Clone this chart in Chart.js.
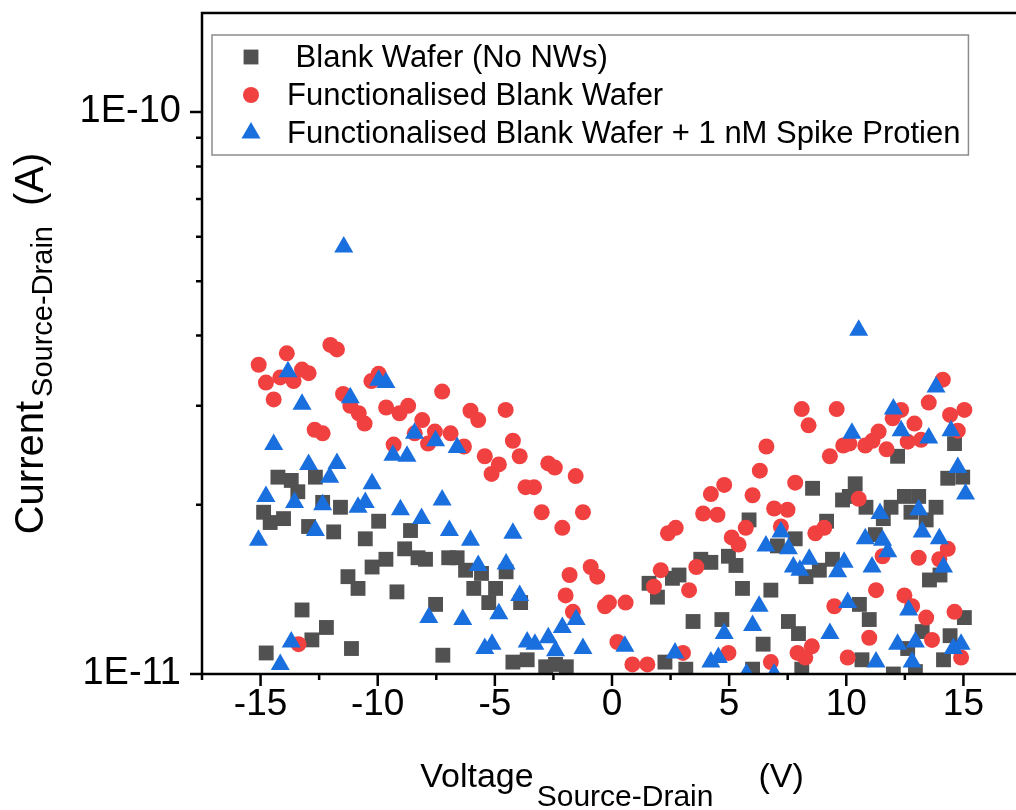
<!DOCTYPE html>
<html>
<head>
<meta charset="utf-8">
<script src="https://cdn.jsdelivr.net/npm/chart.js@4.4.0/dist/chart.umd.min.js"></script>
<style>
  html, body { margin: 0; padding: 0; background: #fff; overflow: hidden; }
  canvas { display: block; }
</style>
</head>
<body>
<canvas id="ivChart" width="1040" height="810"></canvas>
<script>
// series names (the first one has a leading space in the original figure)
const seriesNames = [' Blank Wafer (No NWs)', 'Functionalised Blank Wafer', 'Functionalised Blank Wafer + 1 nM Spike Protien'];

// currents below are read in units of 1E-11 A
const CURRENT_UNIT = 1e-11;

const blankV = [-14.87,-14.76,-14.59,-14.26,-14.02,-13.69,-13.41,-13.23,-12.95,-12.81,-12.66,-12.35,-12.19,-11.88,-11.59,-11.27,-11.12,-10.84,-10.53,-10.24,
  -9.96,-9.65,-9.18,-8.85,-8.60,-8.28,-7.96,-7.53,-7.22,-6.97,-6.61,-6.25,-5.90,-5.57,-5.26,-4.97,-4.52,-4.23,-3.90,-3.62,-2.83,-2.41,-1.95,
  1.58,1.94,2.26,2.58,2.86,3.15,3.46,3.79,4.22,4.69,4.97,5.29,5.57,5.85,6.00,6.45,6.78,7.06,7.53,7.82,7.96,8.10,8.28,8.56,8.85,9.16,9.41,
  9.84,10.13,10.38,10.56,10.67,10.84,10.98,11.24,11.58,11.91,12.01,12.19,12.48,12.62,12.76,12.95,13.09,13.24,13.41,13.55,13.83,14.00,14.15,14.33,14.43,14.62,14.97,15.04];
const blankI = [1.94,1.09,1.86,2.24,1.89,2.21,2.11,1.30,1.83,1.15,2.24,2.02,1.21,1.79,1.98,1.49,1.11,1.42,1.74,1.55,
  1.87,1.60,1.40,1.67,1.80,1.61,1.60,1.33,1.08,1.61,1.61,1.53,1.42,1.51,1.34,1.42,1.52,1.05,1.34,1.06,1.03,1.04,1.03,
  1.45,1.37,1.05,1.48,1.50,1.02,1.24,1.60,1.58,1.25,1.62,1.56,1.42,1.88,1.02,1.13,1.41,1.69,1.24,1.74,1.18,1.02,1.49,2.14,1.53,1.87,1.60,
  2.04,2.07,2.18,1.33,1.06,1.98,1.25,1.77,1.89,1.98,1.00,2.44,2.07,1.11,1.94,1.01,2.07,1.19,1.88,1.47,1.98,1.50,1.06,2.23,1.17,2.57,2.24,1.26];

const funcV = [-15.08,-14.77,-14.44,-14.16,-13.88,-13.59,-13.38,-13.23,-12.95,-12.69,-12.35,-12.02,-11.74,-11.48,-11.17,-10.81,-10.56,-10.27,-9.96,-9.64,
  -9.32,-9.07,-8.70,-8.42,-8.10,-7.85,-7.56,-7.25,-6.89,-6.32,-6.04,-5.71,-5.43,-5.14,-4.83,-4.54,-4.23,-3.94,-3.69,-3.33,
  -3.00,-2.72,-2.44,-2.12,-1.98,-1.81,-1.67,-1.55,-1.24,-0.91,-0.63,-0.30,-0.13,0.23,0.58,0.87,1.51,1.79,2.08,2.39,
  2.72,3.03,3.29,3.60,3.89,4.22,4.50,4.79,4.97,5.11,5.40,5.71,6.00,6.31,6.59,6.78,6.92,7.21,7.49,7.82,
  7.92,8.10,8.25,8.39,8.53,8.68,9.06,9.30,9.49,9.59,9.87,10.06,10.13,10.53,10.81,10.98,11.12,11.27,11.38,11.55,
  11.72,11.98,12.34,12.48,12.62,12.81,12.91,13.09,13.19,13.41,13.52,13.66,13.97,14.12,14.33,14.43,14.62,14.76,14.90,15.04];
const funcI = [3.55,3.30,3.08,3.37,3.72,3.32,1.13,3.48,3.43,2.72,2.68,3.85,3.78,3.15,3.00,2.91,2.79,3.32,3.42,2.98,
  2.56,2.91,3.00,2.68,2.83,2.57,2.70,3.18,2.68,2.54,2.94,2.83,2.44,2.27,2.36,2.95,2.60,2.44,2.15,2.15,
  1.94,2.37,2.33,1.82,1.38,1.50,1.29,2.25,1.94,1.55,1.49,1.32,1.34,1.14,1.34,1.04,1.04,1.43,1.53,1.78,
  1.82,1.09,1.41,1.55,1.93,2.09,1.92,2.17,1.09,1.75,1.70,1.82,2.08,2.30,2.54,1.05,1.97,1.83,1.96,2.19,
  1.09,2.96,1.07,2.77,1.12,1.78,1.82,2.44,1.32,2.96,2.55,1.07,2.57,2.05,2.55,1.16,2.60,1.41,2.70,1.62,
  2.51,2.85,2.95,1.38,2.59,1.32,2.79,1.61,2.61,1.26,3.04,1.15,1.60,3.34,1.67,2.89,1.29,2.71,1.07,2.95];

const spikeV = [-15.09,-14.77,-14.44,-14.16,-13.83,-13.69,-13.55,-13.23,-12.95,-12.66,-12.35,-12.05,-11.74,-11.45,-11.17,-10.84,-10.53,-10.24,-9.96,-9.65,
  -9.35,-9.03,-8.75,-8.43,-8.13,-7.82,-7.53,-7.25,-6.94,-6.61,-6.37,-6.04,-5.71,-5.43,-5.12,-4.83,-4.52,-4.23,-3.94,-3.62,
  -3.29,-2.72,-2.41,-2.12,-1.53,-1.24,0.55,2.69,4.22,4.54,4.79,5.74,6.00,6.28,6.57,6.92,7.21,7.53,7.74,8.02,
  8.42,9.30,9.63,9.91,10.06,10.24,10.53,10.81,11.10,11.27,11.44,11.55,11.77,12.01,12.19,12.34,12.66,12.81,12.95,13.09,
  13.24,13.52,13.83,13.97,14.15,14.47,14.57,14.76,14.90,15.09];
const spikeI = [1.73,2.07,2.56,1.04,3.45,1.14,2.02,3.02,2.36,1.80,2.00,2.24,2.37,5.75,3.10,1.98,2.02,2.18,3.33,3.30,
  2.45,1.96,2.44,2.68,1.89,1.26,2.60,2.04,1.80,2.53,1.25,1.73,1.56,1.11,1.13,1.28,1.57,1.78,1.38,1.14,
  1.13,1.16,1.10,1.21,1.25,1.11,1.12,1.09,1.05,1.07,1.18,1.00,1.22,1.32,1.69,1.00,1.79,1.67,1.55,1.53,
  1.60,1.18,1.52,1.58,1.34,2.68,4.09,1.74,1.55,1.05,1.93,1.73,1.65,2.96,1.13,2.71,1.30,1.05,1.14,1.96,
  1.79,2.63,3.24,1.74,1.55,2.71,1.11,2.33,1.13,2.09];

// axis ticks
const xTickValues = [-17.5,-15,-12.5,-10,-7.5,-5,-2.5,0,2.5,5,7.5,10,12.5,15,17.5];
const yTickValues = [1e-11,2e-11,3e-11,4e-11,5e-11,6e-11,7e-11,8e-11,9e-11,1e-10];

const FONT = '"Liberation Sans", Arial, sans-serif';
Chart.defaults.font.family = FONT;
Chart.defaults.color = '#000';

function toPoints(xs, ys) {
  return xs.map((v, i) => ({ x: v, y: ys[i] * CURRENT_UNIT }));
}

const isMajorDecade = v => Math.abs(Math.log10(v) - Math.round(Math.log10(v))) < 1e-9;

// draw a marker the same way the chart does
function drawMarker(ctx, ds, x, y) {
  ctx.fillStyle = ds.backgroundColor;
  ctx.strokeStyle = ds.borderColor;
  ctx.lineWidth = ds.borderWidth;
  if (Chart.helpers && Chart.helpers.drawPoint) {
    Chart.helpers.drawPoint(ctx, { pointStyle: ds.pointStyle, radius: ds.pointRadius, borderWidth: ds.borderWidth, rotation: 0 }, x, y);
    return;
  }
  const r = ds.pointRadius;
  ctx.beginPath();
  if (ds.pointStyle === 'rect') {
    const s = Math.SQRT1_2 * r;
    ctx.rect(x - s, y - s, 2 * s, 2 * s);
  } else if (ds.pointStyle === 'triangle') {
    ctx.moveTo(x, y - r);
    ctx.lineTo(x + r * Math.sin(2 * Math.PI / 3), y + r * 0.5);
    ctx.lineTo(x - r * Math.sin(2 * Math.PI / 3), y + r * 0.5);
    ctx.closePath();
  } else {
    ctx.arc(x, y, r, 0, Math.PI * 2);
  }
  ctx.fill();
}

// frame and the outward ticks (major long, minor short)
const axesFrame = {
  id: 'axesFrame',
  afterDatasetsDraw(chart) {
    const { ctx, chartArea: a, scales: { x, y } } = chart;
    ctx.save();
    ctx.strokeStyle = '#000';
    ctx.lineWidth = 2.5;
    ctx.strokeRect(a.left, a.top, a.right - a.left, a.bottom - a.top);
    ctx.beginPath();
    x.ticks.forEach(t => {
      const px = x.getPixelForValue(t.value);
      const len = Math.abs(t.value % 5) < 1e-9 ? 12 : 6;
      ctx.moveTo(px, a.bottom);
      ctx.lineTo(px, a.bottom + len);
    });
    y.ticks.forEach(t => {
      const py = y.getPixelForValue(t.value);
      const len = isMajorDecade(t.value) ? 12 : 6;
      ctx.moveTo(a.left, py);
      ctx.lineTo(a.left - len, py);
    });
    ctx.stroke();
    ctx.restore();
  }
};

// axis titles with subscripts, and the boxed legend inside the plot
const titlesAndLegend = {
  id: 'titlesAndLegend',
  afterDraw(chart) {
    const { ctx, chartArea: a } = chart;
    ctx.save();
    ctx.fillStyle = '#000';
    ctx.textBaseline = 'alphabetic';
    ctx.textAlign = 'left';

    // x title
    const xParts = [
      { t: 'Voltage', size: 34, dy: 0, gap: 3 },
      { t: 'Source-Drain', size: 30, dy: 19, gap: 45 },
      { t: '(V)', size: 34, dy: 0, gap: 0 }
    ];
    let total = 0;
    xParts.forEach(p => { ctx.font = p.size + 'px ' + FONT; p.w = ctx.measureText(p.t).width; total += p.w + p.gap; });
    let cx = (a.left + a.right) / 2 - total / 2;
    xParts.forEach(p => { ctx.font = p.size + 'px ' + FONT; ctx.fillText(p.t, cx, 787 + p.dy); cx += p.w + p.gap; });

    // y title, rotated
    const yParts = [
      { t: 'Current', size: 40, dy: 0, gap: 4 },
      { t: 'Source-Drain', size: 29, dy: 9, gap: 20 },
      { t: '(A)', size: 40, dy: 0, gap: 0 }
    ];
    total = 0;
    yParts.forEach(p => { ctx.font = p.size + 'px ' + FONT; p.w = ctx.measureText(p.t).width; total += p.w + p.gap; });
    ctx.translate(43, (a.top + a.bottom) / 2);
    ctx.rotate(-Math.PI / 2);
    cx = -total / 2;
    yParts.forEach(p => { ctx.font = p.size + 'px ' + FONT; ctx.fillText(p.t, cx, p.dy); cx += p.w + p.gap; });
    ctx.setTransform(1, 0, 0, 1, 0, 0);

    // legend
    const left = a.left + 10, top = a.top + 22, rowH = 38;
    const markX = left + 39, textX = left + 75;
    ctx.font = '31px ' + FONT;
    const maxW = Math.max(...chart.data.datasets.map(d => ctx.measureText(d.label).width));
    const w = textX - left + maxW + 8;
    const h = rowH * chart.data.datasets.length + 6;
    ctx.fillStyle = '#fff';
    ctx.fillRect(left, top, w, h);
    ctx.strokeStyle = '#8c8c8c';
    ctx.lineWidth = 1.5;
    ctx.strokeRect(left, top, w, h);
    chart.data.datasets.forEach((ds, i) => {
      const cy = top + 22 + i * rowH;
      drawMarker(ctx, ds, markX, cy);
      ctx.fillStyle = '#000';
      ctx.font = '31px ' + FONT;
      ctx.textBaseline = 'middle';
      ctx.fillText(ds.label, textX, cy + 1);
    });
    ctx.restore();
  }
};

const ctx = document.getElementById('ivChart').getContext('2d');
const chart = new Chart(ctx, {
  type: 'scatter',
  data: {
    datasets: [
      { label: seriesNames[0], data: toPoints(blankV, blankI), pointStyle: 'rect', pointRadius: 10.5,
        backgroundColor: '#515151', borderColor: '#515151', borderWidth: 0, order: 3, clip: 0 },
      { label: seriesNames[1], data: toPoints(funcV, funcI), pointStyle: 'circle', pointRadius: 8,
        backgroundColor: '#F14040', borderColor: '#F14040', borderWidth: 0, order: 2, clip: 0 },
      { label: seriesNames[2], data: toPoints(spikeV, spikeI), pointStyle: 'triangle', pointRadius: 11,
        backgroundColor: '#1A6FDF', borderColor: '#1A6FDF', borderWidth: 0, order: 1, clip: 0 }
    ]
  },
  options: {
    responsive: false,
    animation: false,
    events: [],
    layout: { padding: { left: 0, top: 13, right: 18, bottom: 0 } },
    plugins: { legend: { display: false }, tooltip: { enabled: false } },
    scales: {
      x: {
        type: 'linear',
        min: -17.5,
        max: 17.5,
        afterBuildTicks: s => { s.ticks = xTickValues.map(v => ({ value: v })); },
        afterFit: s => { s.height = 136; s.paddingLeft = 0; s.paddingRight = 0; },
        grid: { display: false, drawTicks: false },
        border: { display: false },
        ticks: {
          autoSkip: false,
          maxRotation: 0,
          padding: 9,
          color: '#000',
          font: { size: 37 },
          callback: v => (Math.abs(v % 5) < 1e-9 ? String(v) : '')
        }
      },
      y: {
        type: 'logarithmic',
        min: 1e-11,
        max: 1.5e-10,
        afterBuildTicks: s => { s.ticks = yTickValues.map(v => ({ value: v })); },
        afterFit: s => { s.width = 202; s.paddingTop = 0; s.paddingBottom = 0; },
        grid: { display: false, drawTicks: false },
        border: { display: false },
        ticks: {
          autoSkip: false,
          padding: 21,
          color: '#000',
          font: { size: 38 },
          callback: v => (isMajorDecade(v) ? v.toExponential(0).toUpperCase() : '')
        }
      }
    }
  },
  plugins: [axesFrame, titlesAndLegend]
});
</script>
</body>
</html>
